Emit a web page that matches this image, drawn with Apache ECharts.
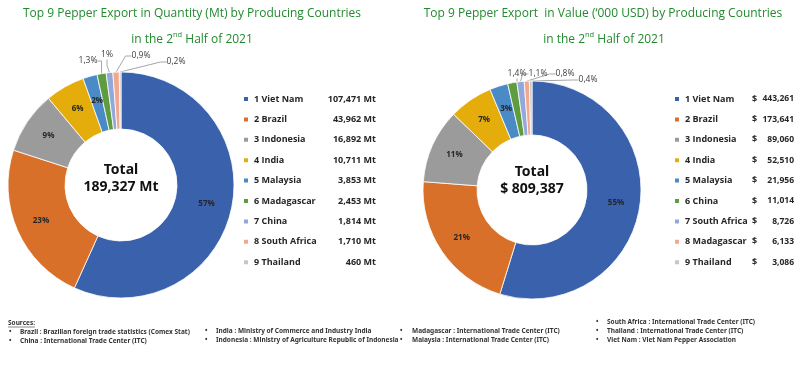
<!DOCTYPE html>
<html>
<head>
<meta charset="utf-8">
<script src="https://cdn.jsdelivr.net/npm/echarts@6/dist/echarts.min.js"></script>
<style>
html,body{margin:0;padding:0;background:#fff;}
#chart{width:800px;height:389px;}
</style>
</head>
<body>
<div id="chart"></div>
<script>
// ---- Data ----
const qtyCountries = ['Viet Nam','Brazil','Indonesia','India','Malaysia','Madagascar','China','South Africa','Thailand'];
const qtyValues = [107471, 43962, 16892, 10711, 3853, 2453, 1814, 1710, 460];
const qtyPctLabels = ['57%','23%','9%','6%','2%','1,3%','1%','0,9%','0,2%'];
const qtyTotal = 189327;

const valCountries = ['Viet Nam','Brazil','Indonesia','India','Malaysia','China','South Africa','Madagascar','Thailand'];
const valValues = [443261, 173641, 89060, 52510, 21956, 11014, 8726, 6133, 3086];
const valPctLabels = ['55%','21%','11%','7%','3%','1,4%','1,1%','0,8%','0,4%'];
const valTotal = 809387;

const sourcesCol1 = ['Brazil : Brazilian foreign trade statistics (Comex Stat)','China : International Trade Center (ITC)'];
const sourcesCol2 = ['India : Ministry of Commerce and Industry India','Indonesia : Ministry of Agriculture Republic of Indonesia'];
const sourcesCol3 = ['Madagascar : International Trade Center (ITC)','Malaysia : International Trade Center (ITC)'];
const sourcesCol4 = ['South Africa : International Trade Center (ITC)','Thailand : International Trade Center (ITC)','Viet Nam : Viet Nam Pepper Association'];

// ---- Style ----
const colors = ['#3A61AC','#D8702A','#9B9B9B','#E4AD0B','#4A8AC6','#5F9C3F','#92A8D8','#F2A88E','#C6C6C6'];
const FONT = "'Open Sans', 'Noto Sans', sans-serif";
const fmt = n => n.toLocaleString('en-US');

const chart = echarts.init(document.getElementById('chart'), null, {renderer:'canvas'});

function pieData(names, values, labels) {
  return names.map((n, i) => {
    const small = i >= 5;
    return {
      name: n, value: values[i],
      itemStyle: {color: colors[i]},
      label: small ? {position: 'outside', formatter: labels[i], fontWeight: 'normal', fontSize: 8.5, color: '#404040'}
                   : {position: 'inside', formatter: labels[i]},
      labelLine: {show: small}
    };
  });
}

// outside label anchor positions (label placement only)
const qtyLabelPos = {5: [88, 61], 6: [107, 55], 7: [141, 56], 8: [176, 62]};
const valLabelPos = {5: [517, 74], 6: [538, 74], 7: [565, 74], 8: [588, 80]};

function legendCfg(names, left, top, rich, fmtFn) {
  return {
    orient: 'vertical', left: left, top: top, padding: 0,
    itemWidth: 6, itemHeight: 6, itemGap: 8.4,
    selectedMode: false, icon: 'rect',
    data: names.map((n, i) => ({name: n, itemStyle: {color: colors[i]}})),
    formatter: name => fmtFn(names.indexOf(name), name),
    textStyle: {rich: rich, fontFamily: FONT, fontSize: 9, fontWeight: 'bold', color: '#262626', lineHeight: 12}
  };
}

const richBase = {fontFamily: FONT, fontSize: 9, fontWeight: 'bold', color: '#262626', lineHeight: 12};
const titleStyle = {fontFamily: FONT, fontSize: 12, fontWeight: 'normal', color: '#228A2E'};
const title2Style = Object.assign({}, titleStyle, {lineHeight: 18,
  rich: {sup: {fontFamily: FONT, fontSize: 7.5, color: '#228A2E', verticalAlign: 'top', lineHeight: 18}}});

const option = {
  animation: false,
  backgroundColor: '#fff',
  title: [
    {text: 'Top 9 Pepper Export in Quantity (Mt) by Producing Countries', left: 192, top: 8, padding: 0, textAlign: 'center', textStyle: titleStyle},
    {text: 'in the 2{sup|nd} Half of 2021', left: 192, top: 31, padding: 0, textAlign: 'center', textStyle: title2Style},
    {text: 'Top 9 Pepper Export  in Value (\u2018000 USD) by Producing Countries', left: 603, top: 8, padding: 0, textAlign: 'center', textStyle: titleStyle},
    {text: 'in the 2{sup|nd} Half of 2021', left: 604, top: 31, padding: 0, textAlign: 'center', textStyle: title2Style}
  ],
  legend: [
    legendCfg(qtyCountries, 242, 93,
      {n: Object.assign({}, richBase, {width: 72}), v: Object.assign({}, richBase, {width: 50, align: 'right'})},
      (i, name) => `{n|${i + 1} ${name}}{v|${fmt(qtyValues[i])} Mt}`),
    legendCfg(valCountries, 673, 93,
      {n: Object.assign({}, richBase, {width: 67}), d: Object.assign({}, richBase, {width: 9}),
       v: Object.assign({}, richBase, {width: 33, align: 'right', fontSize: 8.5})},
      (i, name) => `{n|${i + 1} ${name}}{d|$}{v|${fmt(valValues[i])}}`)
  ],
  series: [
    {
      type: 'pie', name: 'qty', center: [121, 185], radius: [56, 113],
      startAngle: 90, clockwise: true, avoidLabelOverlap: false,
      itemStyle: {borderColor: '#fff', borderWidth: 0.8},
      label: {fontFamily: FONT, fontSize: 8, fontWeight: 'bold', color: '#262626'},
      labelLine: {lineStyle: {color: '#A6A6A6', width: 1}, length: 8, length2: 6},
      emphasis: {disabled: true},
      labelLayout: p => qtyLabelPos[p.dataIndex] ? {x: qtyLabelPos[p.dataIndex][0], y: qtyLabelPos[p.dataIndex][1], align: 'center', verticalAlign: 'middle'} : {},
      data: pieData(qtyCountries, qtyValues, qtyPctLabels)
    },
    {
      type: 'pie', name: 'val', center: [532, 190], radius: [55, 109],
      startAngle: 90, clockwise: true, avoidLabelOverlap: false,
      itemStyle: {borderColor: '#fff', borderWidth: 0.8},
      label: {fontFamily: FONT, fontSize: 8, fontWeight: 'bold', color: '#262626'},
      labelLine: {lineStyle: {color: '#A6A6A6', width: 1}, length: 8, length2: 6},
      emphasis: {disabled: true},
      labelLayout: p => valLabelPos[p.dataIndex] ? {x: valLabelPos[p.dataIndex][0], y: valLabelPos[p.dataIndex][1], align: 'center', verticalAlign: 'middle'} : {},
      data: pieData(valCountries, valValues, valPctLabels)
    }
  ],
  graphic: []
};

// centre totals
option.graphic.push({type: 'text', x: 121, y: 179, style: {text: 'Total\n' + fmt(qtyTotal) + ' Mt', font: "bold 14px 'Noto Sans', sans-serif", lineHeight: 17, fill: '#111', align: 'center', verticalAlign: 'middle'}});
option.graphic.push({type: 'text', x: 532, y: 181, style: {text: 'Total\n$ ' + fmt(valTotal), font: "bold 14px 'Noto Sans', sans-serif", lineHeight: 17, fill: '#111', align: 'center', verticalAlign: 'middle'}});

// sources
const srcFont = "bold 6.5px 'Noto Sans', sans-serif";
option.graphic.push({type: 'text', x: 8, y: 323, style: {text: 'Sources:', font: srcFont, fill: '#333', verticalAlign: 'middle'}});
option.graphic.push({type: 'line', shape: {x1: 8, y1: 327, x2: 35, y2: 327}, style: {stroke: '#333', lineWidth: 0.6}});
function addCol(list, bx, tx, y0) {
  list.forEach((t, i) => {
    const y = y0 + i * 9;
    option.graphic.push({type: 'text', x: bx, y: y, style: {text: '\u2022', font: srcFont, fill: '#333', verticalAlign: 'middle'}});
    option.graphic.push({type: 'text', x: tx, y: y, style: {text: t, font: srcFont, fill: '#333', verticalAlign: 'middle'}});
  });
}
addCol(sourcesCol1, 9, 20, 332);
addCol(sourcesCol2, 205, 216, 331);
addCol(sourcesCol3, 400, 412, 331);
addCol(sourcesCol4, 596, 607, 322);

chart.setOption(option);
</script>
</body>
</html>
